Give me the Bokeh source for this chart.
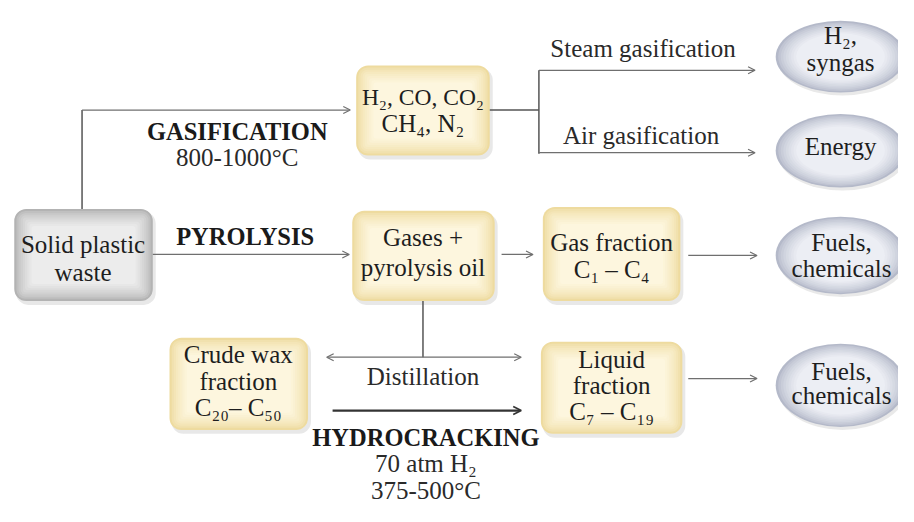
from bokeh.plotting import figure
from bokeh.models import Range1d, Arrow, OpenHead
from bokeh.core.properties import value
from bokeh.embed import file_html
from bokeh.resources import INLINE

FONT = "Liberation Serif"

# ---- diagram content (reference pixel coordinates) ----
box_left = [14, 362, 358, 552, 172, 550]
box_right = [155, 498, 503, 692, 313, 694]
box_top = [215, 67, 217, 213, 348, 352]
box_bottom = [310, 160, 310, 310, 443, 447]
box_kind = ["gray", "cream", "cream", "cream", "cream", "cream"]

ell_x = [855, 855, 855, 855]
ell_y = [58, 155, 263, 397]
ell_w = [132, 132, 132, 132]
ell_h = [74, 76, 80, 86]

node_text = ["Solid plastic", "waste",
             "H₂, CO, CO₂", "CH₄, N₂",
             "Gases +", "pyrolysis oil",
             "Gas fraction", "C₁ – C₄",
             "Crude wax", "fraction", "C₂₀– C₅₀",
             "Liquid", "fraction", "C₇ – C₁₉",
             "H₂,", "syngas", "Energy",
             "Fuels,", "chemicals", "Fuels,", "chemicals"]
node_size = ["25px", "25px", "23.5px", "25px", "25px", "25px", "25px", "25px", "25px", "25px",
             "25px", "25px", "25px", "25px", "25px", "25px", "25px", "25px", "25px", "25px",
             "25px"]
node_tx = [84, 84, 430, 430, 430, 430, 622, 622, 242, 242, 242, 622, 622, 622,
           855, 855, 855, 856, 856, 856, 856]
node_ty = [252, 281, 100, 127, 245, 275, 250, 278, 365, 393, 420, 370, 397, 424,
           36, 64, 151, 250, 276, 383, 408]

bold_text = ["GASIFICATION", "PYROLYSIS", "HYDROCRACKING"]
bold_x = [241, 249, 433]
bold_y = [135, 243, 451]

plain_text = ["800-1000°C", "Steam gasification", "Air gasification", "Distillation",
              "70 atm H₂", "375-500°C"]
plain_x = [241, 654, 652, 430, 433, 433]
plain_y = [162, 50, 139, 388, 478, 505]

seg_x0 = [83, 498, 548, 430]
seg_y0 = [215, 113, 72, 310]
seg_x1 = [83, 548, 548, 430]
seg_y1 = [113, 113, 158, 368]

arr_x0 = [83, 155, 548, 548, 510, 700, 700]
arr_y0 = [113, 262, 72, 157, 262, 263, 390]
arr_x1 = [356, 355, 768, 768, 542, 770, 770]
arr_y1 = [113, 262, 72, 157, 262, 263, 390]

p = figure(width=898, height=506, output_backend="svg", toolbar_location=None,
           x_range=Range1d(0, 914), y_range=Range1d(522, 0),
           min_border=0, outline_line_color=None)
p.axis.visible = False
p.grid.visible = False
p.background_fill_color = "white"
p.border_fill_color = "white"


def mix(c1, c2, t):
    a = [int(c1[i:i + 2], 16) for i in (1, 3, 5)]
    b = [int(c2[i:i + 2], 16) for i in (1, 3, 5)]
    return "#%02x%02x%02x" % tuple(int(round(a[k] + (b[k] - a[k]) * t)) for k in range(3))


palettes = {"gray": ("#b3b3b3", "#ececec"), "cream": ("#eedb9f", "#fdf6de")}
NL = 9
# shadows
p.quad(left=[l + 2 for l in box_left], right=[r + 3 for r in box_right],
       top=[t + 3 for t in box_top], bottom=[b + 4 for b in box_bottom],
       fill_color="#d8d8d8", fill_alpha=0.6, line_color=None, border_radius=12)
for k in range(NL):
    ins = k * 2.2
    for kind in ("gray", "cream"):
        idx = [i for i, kk in enumerate(box_kind) if kk == kind]
        edge, center = palettes[kind]
        p.quad(left=[box_left[i] + ins for i in idx], right=[box_right[i] - ins for i in idx],
               top=[box_top[i] + ins for i in idx], bottom=[box_bottom[i] - ins for i in idx],
               fill_color=mix(edge, center, (k / (NL - 1)) ** 0.7), line_color=None,
               border_radius=int(max(12 - ins, 3)))

# ellipses
p.ellipse(x=[x + 2 for x in ell_x], y=[y + 3 for y in ell_y], width=ell_w, height=ell_h,
          fill_color="#dadada", fill_alpha=0.6, line_color=None)
for k in range(NL):
    ins = k * 2.6
    p.ellipse(x=ell_x, y=ell_y, width=[w - 2 * ins for w in ell_w],
              height=[h - 2 * ins * 0.62 for h in ell_h],
              fill_color=mix("#b4b9c9", "#eceef4", (k / (NL - 1)) ** 0.7), line_color=None)

# connector lines
p.segment(x0=seg_x0, y0=seg_y0, x1=seg_x1, y1=seg_y1, line_color="#555555", line_width=1.5)

for i in range(len(arr_x0)):
    p.add_layout(Arrow(end=OpenHead(size=7, line_color="#6f6f6f", line_width=1.2),
                       x_start=arr_x0[i], y_start=arr_y0[i], x_end=arr_x1[i], y_end=arr_y1[i],
                       line_color="#6f6f6f", line_width=1.3))
# distillation double arrow
p.add_layout(Arrow(start=OpenHead(size=7, line_color="#6f6f6f", line_width=1.2),
                   end=OpenHead(size=7, line_color="#6f6f6f", line_width=1.2),
                   x_start=332, y_start=368, x_end=530, y_end=368,
                   line_color="#6f6f6f", line_width=1.3))
# hydrocracking arrow
p.add_layout(Arrow(end=OpenHead(size=8, line_color="#333333", line_width=1.6),
                   x_start=338, y_start=423, x_end=530, y_end=423,
                   line_color="#333333", line_width=2.2))

# texts
p.text(x=node_tx, y=node_ty, text=node_text, text_font=value(FONT), text_font_size=node_size,
       text_align="center", text_baseline="middle", text_color="#1e1e1e")
p.text(x=bold_x, y=bold_y, text=bold_text, text_font=value(FONT), text_font_size="24.5px",
       text_font_style="bold", text_align="center", text_baseline="middle", text_color="#1a1a1a")
p.text(x=plain_x, y=plain_y, text=plain_text, text_font=value(FONT), text_font_size="25px",
       text_align="center", text_baseline="middle", text_color="#2a2a2a")

open("out.html", "w").write(file_html(p, INLINE))
